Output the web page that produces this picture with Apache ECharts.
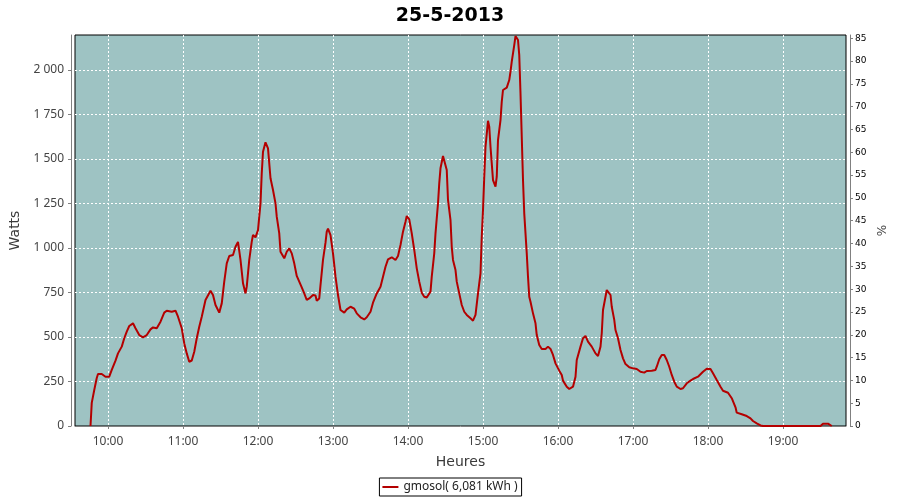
<!DOCTYPE html>
<html>
<head>
<meta charset="utf-8">
<script src="https://cdn.jsdelivr.net/npm/echarts@6/dist/echarts.min.js"></script>
<style>
html,body{margin:0;padding:0;background:#fff;}
#chart{width:900px;height:500px;}
</style>
</head>
<body>
<div id="chart"></div>
<script>
const times = ['9:46','9:47','9:49','9:51','9:52','9:55','9:58','10:01','10:03','10:06','10:08','10:11','10:13','10:15','10:17','10:20','10:22','10:25','10:28','10:31','10:34','10:36','10:39','10:42','10:45','10:47','10:51','10:54','10:56','10:59',
'11:01','11:03','11:05','11:07','11:09','11:11','11:13','11:15','11:18','11:22','11:24','11:26','11:29','11:31','11:33','11:35','11:37','11:40','11:42','11:44','11:46','11:48','11:50','11:51','11:53','11:55','11:56','11:58',
'12:00','12:02','12:03','12:04','12:06','12:08','12:10','12:12','12:14','12:15','12:17','12:18','12:21','12:23','12:25','12:27','12:29','12:31','12:33','12:35','12:37','12:39','12:41','12:44','12:46','12:47','12:49','12:50','12:52','12:54','12:55','12:56','12:58',
'13:00','13:02','13:04','13:06','13:09','13:11','13:14','13:17','13:19','13:22','13:25','13:27','13:30','13:32','13:35','13:38','13:40','13:42','13:44','13:47','13:50','13:52','13:54','13:56','13:58','13:59',
'14:01','14:03','14:05','14:07','14:09','14:11','14:13','14:15','14:18','14:19','14:21','14:22','14:24','14:25','14:26','14:28','14:29','14:31','14:32','14:34','14:35','14:36','14:38','14:39','14:41','14:43','14:45','14:47','14:50','14:52','14:54','14:56','14:58','14:59',
'15:00','15:01','15:02','15:04','15:05','15:06','15:07','15:08','15:10','15:11','15:12','15:14','15:15','15:16','15:19','15:21','15:22','15:23','15:25','15:26','15:28','15:29','15:30','15:31','15:32','15:33','15:34','15:35','15:36','15:37','15:38','15:40','15:42','15:43','15:45','15:47','15:50','15:52','15:54','15:56','15:58',
'16:01','16:03','16:04','16:07','16:09','16:12','16:14','16:15','16:18','16:20','16:22','16:24','16:27','16:30','16:32','16:34','16:35','16:36','16:38','16:39','16:40','16:42','16:43','16:45','16:46','16:48','16:50','16:52','16:54','16:57',
'17:00','17:03','17:06','17:09','17:11','17:15','17:18','17:19','17:21','17:23','17:25','17:27','17:29','17:31','17:33','17:35','17:38','17:40','17:43','17:46','17:48','17:52','17:56','17:59',
'18:02','18:04','18:07','18:10','18:12','18:16','18:19','18:22','18:23','18:27','18:31','18:34','18:36','18:39','18:42','18:44','19:30','19:32','19:36','19:39'];
const watts = [0,130,202,270,292,292,277,277,315,367,408,446,493,530,562,577,549,511,498,511,543,554,549,586,637,648,642,648,614,549,
464,408,361,368,417,493,558,614,708,760,736,680,637,689,811,914,955,961,1007,1034,933,802,745,783,933,1036,1073,1060,
1101,1251,1420,1541,1594,1560,1392,1326,1251,1176,1082,979,942,979,998,970,914,843,811,779,745,708,717,736,733,704,717,792,933,1030,1092,1109,1073,
970,839,736,652,637,655,670,659,633,611,599,611,642,693,745,783,839,895,936,948,933,955,1017,1092,1148,1180,
1161,1082,989,886,811,749,726,722,755,839,970,1082,1251,1363,1448,1517,1515,1438,1270,1157,1007,933,876,811,745,680,642,624,605,592,624,745,858,1064,
1213,1401,1569,1715,1682,1569,1476,1382,1345,1401,1607,1719,1822,1888,1901,1944,1991,2047,2140,2191,2169,2084,1869,1625,1382,1195,1082,970,839,726,698,633,577,511,455,433,433,446,433,399,352,
311,287,255,221,208,221,277,371,446,493,506,474,446,408,393,446,521,652,726,764,773,736,670,596,539,493,427,380,348,330,
324,320,305,300,309,311,315,333,375,399,399,371,333,287,249,221,208,212,240,255,264,277,305,322,
320,296,258,221,198,187,156,105,75,66,56,43,28,15,3,0,0,13,13,0];
const hourTicks = [600,660,720,780,840,900,960,1020,1080,1140];
const wattTicks = [0,250,500,750,1000,1250,1500,1750,2000];
const pctTicks = [0,5,10,15,20,25,30,35,40,45,50,55,60,65,70,75,80,85];
const title = '25-5-2013';
const seriesName = 'gmosol( 6,081 kWh )';

function toMin(s){const p=s.split(':');return (+p[0])*60+(+p[1]);}
const seriesData = times.map((t,i)=>[toMin(t), watts[i]]);

const chart = echarts.init(document.getElementById('chart'), null, {renderer:'canvas'});
const font = 'Noto Sans';
chart.setOption({
  animation:false,
  backgroundColor:'#ffffff',
  title:{text:title,left:'center',top:2,textStyle:{fontFamily:'DejaVu Sans',fontWeight:'bold',fontSize:19,color:'#000'}},
  grid:{left:75,right:54,top:35,bottom:74,show:true,backgroundColor:'#9EC3C3',borderColor:'#000',borderWidth:1,containLabel:false},
  legend:{data:[{name:seriesName,icon:'rect'}],left:'center',top:478,itemWidth:16,itemHeight:2,padding:[3,4,3,3],
    borderColor:'#000',borderWidth:1,textStyle:{fontFamily:font,fontSize:12,color:'#222'}},
  xAxis:{type:'value',min:573.6,max:1190.4,offset:4,
    name:'Heures',nameLocation:'middle',nameGap:25,nameTextStyle:{fontFamily:'DejaVu Sans',fontSize:14,color:'#3a3a3a'},
    axisLine:{show:true,lineStyle:{color:'#808080',width:1}},
    axisTick:{show:true,length:3,customValues:hourTicks,lineStyle:{color:'#808080'}},
    axisLabel:{customValues:hourTicks,margin:6,fontFamily:font,fontSize:12,color:'#444',
      formatter:v=>{const h=Math.floor(v/60),m=Math.round(v-h*60);return h+':'+(m<10?'0':'')+m;}},
    splitLine:{show:true,lineStyle:{color:'#ffffff',type:[2,2],width:1}}},
  yAxis:[{type:'value',min:0,max:2197,offset:4,position:'left',
    name:'Watts',nameLocation:'middle',nameGap:40,nameRotate:90,nameTextStyle:{fontFamily:'DejaVu Sans',fontSize:14,color:'#3a3a3a'},
    axisLine:{show:true,lineStyle:{color:'#808080',width:1}},
    axisTick:{show:true,length:3,customValues:wattTicks,lineStyle:{color:'#808080'}},
    axisLabel:{customValues:wattTicks,margin:7,fontFamily:font,fontSize:12,color:'#444',
      formatter:v=>String(Math.round(v)).replace(/\B(?=(\d{3})+(?!\d))/g,' ')},
    splitLine:{show:true,lineStyle:{color:'#ffffff',type:[2,2],width:1}}},
   {type:'value',min:0,max:85.72,offset:4,position:'right',
    name:'%',nameLocation:'middle',nameGap:26,nameRotate:90,nameTextStyle:{fontFamily:'DejaVu Sans',fontSize:12,color:'#444'},
    axisLine:{show:true,lineStyle:{color:'#808080',width:1}},
    axisTick:{show:true,length:3,customValues:pctTicks,lineStyle:{color:'#808080'}},
    axisLabel:{customValues:pctTicks,margin:5,fontFamily:'DejaVu Sans',fontSize:9,color:'#000'},
    splitLine:{show:false}}],
  series:[{name:seriesName,type:'line',yAxisIndex:0,data:seriesData,showSymbol:false,symbol:'none',
    lineStyle:{color:'#B40000',width:2},itemStyle:{color:'#B40000'},emphasis:{disabled:true}}]
});
</script>
</body>
</html>
